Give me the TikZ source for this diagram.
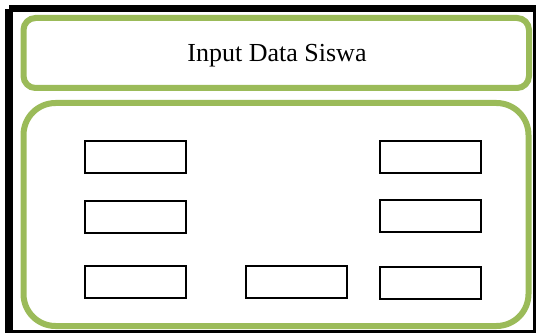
\documentclass[tikz,border=0pt]{standalone}
\usepackage{fontspec}
\setmainfont{Liberation Serif}
\usetikzlibrary{positioning}
\definecolor{olivegreen}{RGB}{155,187,89}

\tikzset{
panel/.style={draw=olivegreen, line width=6pt, inner sep=0pt},
field/.style={draw=black, line width=2pt, minimum width=101pt, minimum height=32pt, inner sep=0pt}
}

\begin{document}
\begin{tikzpicture}[x=1pt,y=-1pt]
\useasboundingbox (0,0) rectangle (536,334);

% frame
\fill[black] (9,5) rectangle (536,12);
\fill[black] (5,9) rectangle (13,333);
\draw[black, line width=2.5pt] (13,331.5) -- (534.5,331.5) -- (534.5,12);

% panels
\node[panel, rounded corners=12pt, minimum width=505.5pt, minimum height=70pt] (header) at (276.25,53) {};
\node[panel, rounded corners=32pt, minimum width=505pt, minimum height=223pt] (body) at (276,214.5) {};

\node[anchor=base, font=\fontsize{26}{30}\selectfont] (title) at (277,62) {Input Data Siswa};

% fields
\node[field] (f11) at (135.5,157) {};
\node[field] (f12) at (430,157) {};
\node[field] (f21) at (135.5,217) {};
\node[field] (f22) at (430,216.5) {};
\node[field] (f31) at (135.5,281.5) {};
\node[field] (f32) at (296,281.5) {};
\node[field] (f33) at (430,282.5) {};

\end{tikzpicture}
\end{document}
